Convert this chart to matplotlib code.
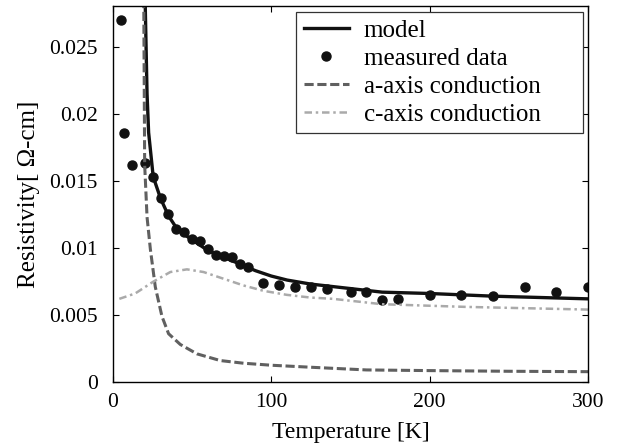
import matplotlib
matplotlib.use("Agg")
import matplotlib.pyplot as plt

plt.rcParams['font.family'] = ['Liberation Serif', 'DejaVu Serif']
plt.rcParams['mathtext.fontset'] = 'stix'

# measured data
T_meas = [5, 7, 12, 20, 25, 30, 35, 40, 45, 50, 55, 60, 65, 70, 75, 80, 85,
          95, 105, 115, 125, 135, 150, 160, 170, 180, 200, 220, 240, 260, 280, 300]
rho_meas = [0.0270, 0.0186, 0.0162, 0.0163, 0.0153, 0.0137, 0.0125, 0.0114,
            0.0112, 0.0107, 0.0105, 0.0099, 0.0095, 0.0094, 0.0093, 0.0088,
            0.0086, 0.0074, 0.0072, 0.0071, 0.0071, 0.0069, 0.0067, 0.0067,
            0.0061, 0.0062, 0.0065, 0.0065, 0.0064, 0.0071, 0.0067, 0.0071]

# model
T_model = [20.2, 21.5, 22.5, 25.4, 30, 35, 40, 45, 50, 55, 60, 70, 80, 90,
           100, 110, 125, 140, 170, 200, 240, 300]
rho_model = [0.0290, 0.0215, 0.0186, 0.0153, 0.0137, 0.0124, 0.0115, 0.0110,
             0.0106, 0.0102, 0.0098, 0.0093, 0.0088, 0.0083, 0.0079, 0.0076,
             0.0073, 0.0071, 0.0067, 0.0066, 0.0064, 0.0062]

# a-axis conduction
T_a = [19.4, 20.0, 21.5, 23.6, 26.7, 30.9, 35.1, 42.5, 53, 67.7, 82.4, 100,
       125, 160, 200, 250, 300]
rho_a = [0.0290, 0.0162, 0.0123, 0.0099, 0.0071, 0.0049, 0.0036, 0.0028,
         0.0021, 0.0016, 0.0014, 0.00125, 0.0011, 0.0009, 0.00085, 0.0008,
         0.00077]

# c-axis conduction
T_c = [4, 14, 25.7, 36.2, 46.7, 57.2, 69.8, 82.4, 95, 109.7, 124.4, 139,
       170, 223, 300]
rho_c = [0.0062, 0.0066, 0.0075, 0.0082, 0.0084, 0.0082, 0.0077, 0.0072,
         0.0068, 0.0065, 0.0063, 0.0062, 0.0058, 0.0056, 0.0054]

xticks = [0, 100, 200, 300]
yticks = [0, 0.005, 0.01, 0.015, 0.02, 0.025]
ytick_labels = ['0', '0.005', '0.01', '0.015', '0.02', '0.025']

fig = plt.figure(figsize=(6.19, 4.48), dpi=100)
ax = fig.add_axes([113/619, 66/448, 475/619, 375.5/448])

ax.plot(T_model, rho_model, '-', color='#111111', lw=2.4, label='model')
ax.plot(T_meas, rho_meas, 'o', color='#111111', ms=6.5, ls='none',
        label='measured data')
ax.plot(T_a, rho_a, '--', color='#606060', lw=2.2, dashes=(3, 1.2),
        label='a-axis conduction')
ax.plot(T_c, rho_c, '-.', color='#aaaaaa', lw=1.8, dashes=(3, 1.5, 1, 1.5),
        label='c-axis conduction')

ax.set_xlim(0, 300)
ax.set_ylim(0, 0.028)
ax.set_xticks(xticks)
ax.set_yticks(yticks)
ax.set_yticklabels(ytick_labels)
ax.tick_params(direction='in', top=True, right=True, labelsize=15.5,
               length=4, width=0.8)
ax.tick_params(axis='x', pad=8)
ax.tick_params(axis='y', pad=11)
for s in ax.spines.values():
    s.set_linewidth(1.0)

ax.set_xlabel('Temperature [K]', fontsize=17, labelpad=7)
ax.set_ylabel('Resistivity[ Ω-cm]', fontsize=18, labelpad=6.5)

leg = ax.legend(loc='upper left', bbox_to_anchor=(0.3853, 0.6631, 0.6035, 0.3231),
                mode='expand', fontsize=18, frameon=True, fancybox=False,
                framealpha=1, edgecolor='#333333', handlelength=1.8,
                handletextpad=0.6, labelspacing=0.22, borderpad=0.3,
                borderaxespad=0)
leg.get_frame().set_linewidth(0.9)

fig.savefig('out.png', dpi=100)
